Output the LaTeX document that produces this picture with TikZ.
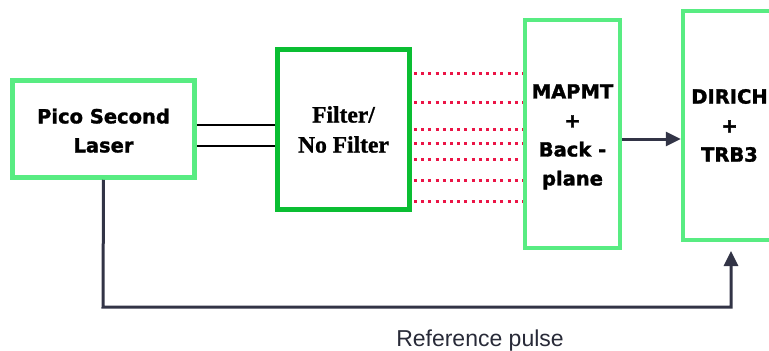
\documentclass[tikz,border=0pt]{standalone}
\usepackage{fontspec}
\setmainfont{Liberation Sans}
\newfontfamily\boxfont{DejaVu Sans}[BoldFeatures={FakeBold=1.5}]
\newfontfamily\filterfont{Liberation Serif}[BoldFeatures={FakeBold=1.2}]
\usetikzlibrary{arrows.meta,calc}
\definecolor{lgreen}{RGB}{88,236,130}
\definecolor{dgreen}{RGB}{10,190,50}
\definecolor{dotred}{RGB}{235,20,70}
\definecolor{darrow}{RGB}{50,52,70}
\tikzset{
  greenbox/.style={draw=lgreen,line width=4.5pt,fill=white,inner sep=0pt,align=center,
    font=\boxfont\bfseries\fontsize{19.5}{29}\selectfont},
  filterbox/.style={draw=dgreen,line width=5pt,fill=white,inner sep=0pt,align=center,
    font=\filterfont\bfseries\fontsize{23.5}{30}\selectfont},
  beam/.style={draw=black,line width=1.8pt},
  fibre/.style={draw=dotred,line width=3pt,dash pattern=on 3pt off 4.2pt},
  sigarrow/.style={draw=darrow,line width=3pt,-{Triangle[length=15pt,width=14pt]}},
  label/.style={font=\fontsize{23}{26}\selectfont,text=darrow!80!black}
}
\begin{document}
\begin{tikzpicture}[x=1pt,y=-1pt]
\useasboundingbox (0,0) rectangle (769,351);
\begin{scope}
\clip (0,0) rectangle (769,351);
\node[greenbox,minimum width=182pt,minimum height=97pt] (laser) at (103.5,129) {\rule{0pt}{18pt}Pico Second\\Laser};
\node[filterbox,minimum width=132pt,minimum height=160pt] (filter) at (343.5,129.5) {Filter/\\No Filter};
\node[greenbox,minimum width=95pt,minimum height=228pt] (mapmt) at (572.5,134) {\rule{0pt}{20pt}MAPMT\\+\\Back -\\plane};
\node[greenbox,minimum width=93pt,minimum height=229pt] (dirich) at (729.5,125.5) {DIRICH\\+\\TRB3};
\end{scope}
\draw[beam] (laser.east |- 0,125) -- (filter.west |- 0,125);
\draw[beam] (laser.east |- 0,146) -- (filter.west |- 0,146);
\foreach \yy in {73,102,129,143,180,201}{
  \draw[fibre] ([xshift=2pt]filter.east |- 0,\yy) -- (mapmt.west |- 0,\yy);
}
\draw[fibre] ([xshift=2pt]filter.east |- 0,159) -- ([xshift=-4pt]mapmt.west |- 0,159);
\draw[sigarrow] (mapmt.east |- 0,139) -- (dirich.west |- 0,139);
\coordinate (refend) at (731,251);
\coordinate (refcorner) at (103,307);
\draw[sigarrow] (laser.south) -- (refcorner) -| (refend);
\node[label] (reflabel) at (480,341) {Reference pulse};
\end{tikzpicture}
\end{document}
